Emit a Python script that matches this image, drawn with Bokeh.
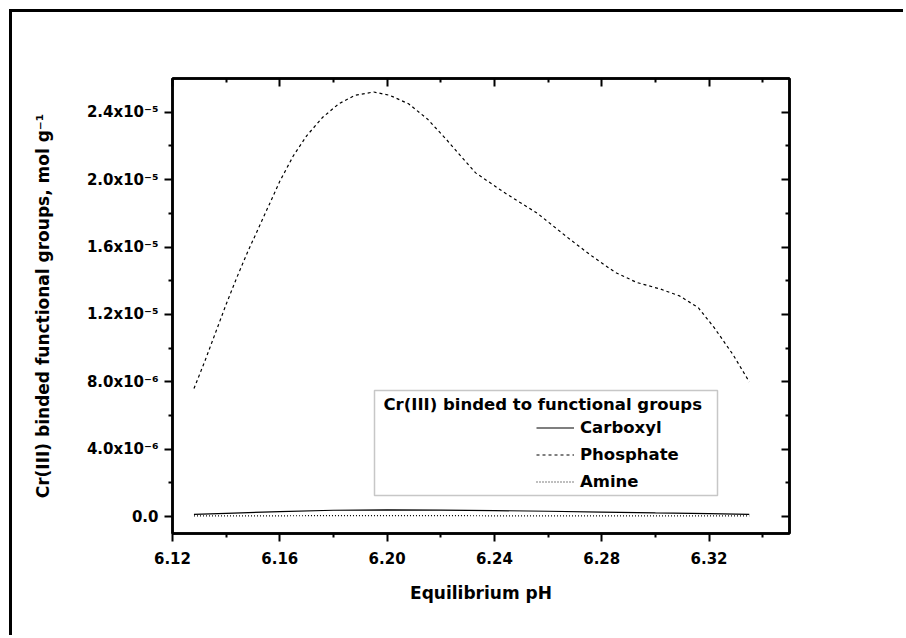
from bokeh.plotting import figure
from bokeh.models import (FixedTicker, LinearAxis, Range1d, CustomJSTickFormatter,
                          Legend, LegendItem, Label, BoxAnnotation)
from bokeh.embed import file_html
from bokeh.resources import INLINE

# ---------------- data ----------------
ph_phosphate = [6.128, 6.132, 6.136, 6.140, 6.144, 6.148, 6.152, 6.156, 6.160, 6.165,
                6.170, 6.176, 6.182, 6.188, 6.195, 6.201, 6.208, 6.215, 6.222, 6.228,
                6.233, 6.244, 6.256, 6.267, 6.276, 6.285, 6.293, 6.302, 6.309, 6.316,
                6.322, 6.329, 6.335]
phosphate = [7.6e-6, 9.2e-6, 10.9e-6, 12.6e-6, 14.2e-6, 15.7e-6, 17.1e-6, 18.5e-6, 19.9e-6, 21.4e-6,
             22.6e-6, 23.7e-6, 24.5e-6, 25.0e-6, 25.2e-6, 25.0e-6, 24.5e-6, 23.6e-6, 22.4e-6, 21.3e-6,
             20.4e-6, 19.2e-6, 18.0e-6, 16.6e-6, 15.5e-6, 14.5e-6, 13.9e-6, 13.5e-6, 13.1e-6, 12.4e-6,
             11.2e-6, 9.6e-6, 8.0e-6]

ph_carboxyl = [6.128, 6.14, 6.16, 6.18, 6.20, 6.22, 6.24, 6.26, 6.28, 6.30, 6.32, 6.335]
carboxyl = [1.3e-7, 2.0e-7, 3.0e-7, 3.8e-7, 4.0e-7, 3.9e-7, 3.6e-7, 3.2e-7, 2.7e-7, 2.2e-7, 1.8e-7, 1.3e-7]

ph_amine = [6.128, 6.14, 6.16, 6.18, 6.20, 6.22, 6.24, 6.26, 6.28, 6.30, 6.32, 6.335]
amine = [4e-8, 5e-8, 5e-8, 6e-8, 6e-8, 6e-8, 5e-8, 5e-8, 5e-8, 4e-8, 4e-8, 4e-8]

x_ticks = [6.12, 6.16, 6.20, 6.24, 6.28, 6.32]
x_tick_labels = ["6.12", "6.16", "6.20", "6.24", "6.28", "6.32"]
x_minor_ticks = [6.14, 6.18, 6.22, 6.26, 6.30, 6.34]

y_ticks = [0.0, 4e-6, 8e-6, 1.2e-5, 1.6e-5, 2.0e-5, 2.4e-5]
y_tick_labels = ["0.0", "4.0x10\u207b\u2076", "8.0x10\u207b\u2076", "1.2x10\u207b\u2075",
                 "1.6x10\u207b\u2075", "2.0x10\u207b\u2075", "2.4x10\u207b\u2075"]
y_minor_ticks = [2e-6, 6e-6, 1.0e-5, 1.4e-5, 1.8e-5, 2.2e-5]

series_names = ["Carboxyl", "Phosphate", "Amine"]
legend_title = "Cr(III) binded to functional groups"
x_title = "Equilibrium pH"
y_title = "Cr(III) binded functional groups, mol g\u207b\u00b9"

FONT = "DejaVu Sans"

# ---------------- figure ----------------
p = figure(width=894, height=626, x_range=Range1d(6.12, 6.35), y_range=Range1d(-1e-6, 2.6e-5),
           output_backend="svg", toolbar_location=None,
           min_border_left=160, min_border_right=117, min_border_top=66, min_border_bottom=105,
           background_fill_color="white", border_fill_color="white")
p.margin = (9, 0, 0, 9)
p.styles = {"border-left": "3px solid black", "border-top": "3px solid black"}
p.xgrid.visible = False
p.ygrid.visible = False
p.outline_line_color = "black"
p.outline_line_width = 2.5


def pick_formatter(vals, labs):
    return CustomJSTickFormatter(args=dict(tvals=vals, tlabels=labs), code="""
        let best = 0, d = Infinity;
        for (let i = 0; i < tvals.length; i++) {
            const dd = Math.abs(tvals[i] - tick);
            if (dd < d) { d = dd; best = i; }
        }
        return tlabels[best];
    """)


blank = CustomJSTickFormatter(code="return '';")


def style_axis(ax, inward):
    ax.axis_line_color = "black"
    ax.axis_line_width = 2.5
    ax.major_tick_line_color = "black"
    ax.major_tick_line_width = 2
    ax.minor_tick_line_color = "black"
    ax.minor_tick_line_width = 2
    if inward:
        ax.major_tick_in, ax.major_tick_out = 8, 0
        ax.minor_tick_in, ax.minor_tick_out = 4, 0
    else:
        ax.major_tick_in, ax.major_tick_out = 0, 8
        ax.minor_tick_in, ax.minor_tick_out = 0, 4
    ax.major_label_text_font = FONT
    ax.major_label_text_font_style = "bold"
    ax.major_label_text_font_size = "15px"
    ax.major_label_text_color = "black"
    ax.axis_label_text_font = FONT
    ax.axis_label_text_font_style = "bold"
    ax.axis_label_text_font_size = "17px"
    ax.axis_label_text_color = "black"


xt = FixedTicker(ticks=x_ticks, minor_ticks=x_minor_ticks)
yt = FixedTicker(ticks=y_ticks, minor_ticks=y_minor_ticks)

xa = p.xaxis[0]
xa.ticker = xt
xa.formatter = pick_formatter(x_ticks, x_tick_labels)
style_axis(xa, False)
xa.major_label_standoff = 10
xa.axis_label = x_title
xa.axis_label_standoff = 16

ya = p.yaxis[0]
ya.ticker = yt
ya.formatter = pick_formatter(y_ticks, y_tick_labels)
style_axis(ya, False)
ya.major_label_standoff = 6
ya.axis_label = y_title
ya.axis_label_standoff = 31

top = LinearAxis(ticker=xt, formatter=blank)
style_axis(top, True)
p.add_layout(top, "above")
right = LinearAxis(ticker=yt, formatter=blank)
style_axis(right, True)
p.add_layout(right, "right")

# ---------------- curves ----------------
r_carb = p.line(ph_carboxyl, carboxyl, line_color="black", line_width=1.2)
r_phos = p.line(ph_phosphate, phosphate, line_color="black", line_width=1.2, line_dash="3 3")
r_amin = p.line(ph_amine, amine, line_color="black", line_width=1.2, line_dash="1 2")

# ---------------- legend ----------------
box = BoxAnnotation(left=202, right=545, top=143, bottom=38,
                    left_units="screen", right_units="screen", top_units="screen", bottom_units="screen",
                    fill_color="white", fill_alpha=1.0, line_color="#444444", line_width=1.5)
p.add_layout(box)

title_lbl = Label(x=211, y=129, x_units="screen", y_units="screen", text=legend_title,
                  text_font=FONT, text_font_style="bold", text_font_size="16.5px",
                  text_baseline="middle", text_color="black")
p.add_layout(title_lbl)

legend = Legend(items=[LegendItem(label=series_names[0], renderers=[r_carb]),
                       LegendItem(label=series_names[1], renderers=[r_phos]),
                       LegendItem(label=series_names[2], renderers=[r_amin])],
                location=(364, 42), border_line_alpha=0, background_fill_alpha=0,
                label_text_font=FONT, label_text_font_style="bold", label_text_font_size="16.5px",
                label_text_color="black",
                glyph_width=38, glyph_height=17, label_height=17, spacing=8, padding=0, margin=0,
                label_standoff=6)
p.add_layout(legend)

open("out.html", "w").write(file_html(p, INLINE))
